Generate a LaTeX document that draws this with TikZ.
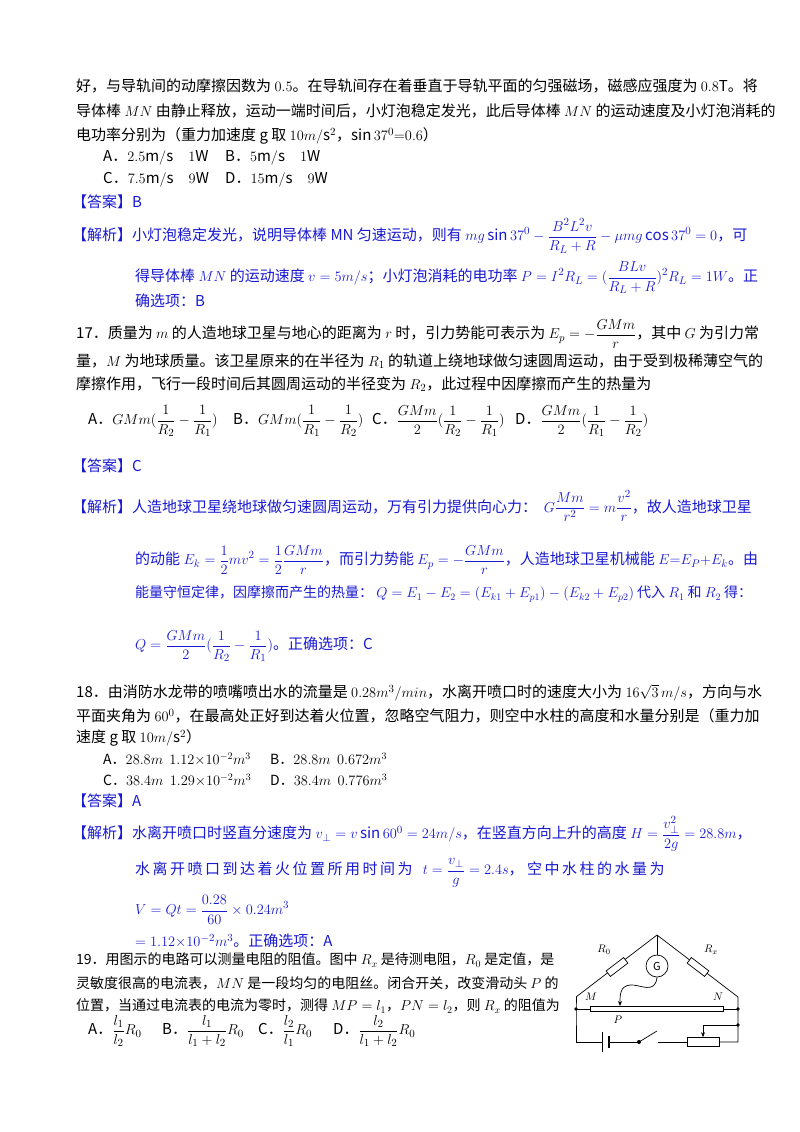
\documentclass[tikz,border=0pt]{standalone}
\usepackage{fontspec}
\setmainfont{Noto Sans CJK SC}
\usepackage{amsmath}
\usetikzlibrary{arrows.meta}
\definecolor{ablue}{RGB}{25,25,210}
\tikzset{ln/.style={anchor=west,inner sep=0pt,font=\fontsize{15}{17}\selectfont},
 bl/.style={ln,text=ablue},
 sm/.style={font=\fontsize{14}{16}\selectfont},
 wire/.style={line width=0.7pt},
 res/.style={draw,line width=0.7pt,fill=white,minimum width=22pt,minimum height=7pt,inner sep=0pt}}
\newcommand{\ds}{\displaystyle}
\begin{document}
\begin{tikzpicture}[x=1pt,y=-1pt]
\useasboundingbox (0,0) rectangle (800,1132);
\fill[white] (0,0) rectangle (800,1132);
% question 16 tail
\node[ln] (l1) at (76,86) {好，与导轨间的动摩擦因数为 $0.5$。在导轨间存在着垂直于导轨平面的匀强磁场，磁感应强度为 $0.8\mathrm{T}$。将};
\node[ln] (l2) at (76,111) {导体棒 $MN$ 由静止释放，运动一端时间后，小灯泡稳定发光，此后导体棒 $MN$ 的运动速度及小灯泡消耗的};
\node[ln] (l3) at (76,136) {电功率分别为（重力加速度 g 取 $10m/\mathrm{s}^2$，$\sin 37^0{=}0.6$）};
\node[ln] (o1) at (103,158) {A．$2.5\mathrm{m/s}\quad 1\mathrm{W}$};
\node[ln] (o2) at (225,158) {B．$5\mathrm{m/s}\quad 1\mathrm{W}$};
\node[ln] (o3) at (103,180) {C．$7.5\mathrm{m/s}\quad 9\mathrm{W}$};
\node[ln] (o4) at (225,180) {D．$15\mathrm{m/s}\quad 9\mathrm{W}$};
\node[bl] (a16) at (72,202) {【答案】B};
\node[bl] (j16) at (72,236) {【解析】小灯泡稳定发光，说明导体棒 MN 匀速运动，则有 $\ds mg\sin 37^0-\frac{B^2L^2v}{R_L+R}-\mu mg\cos 37^0=0$，可};
\node[bl] (j16b) at (135,278) {得导体棒 $MN$ 的运动速度 $v=5m/s$；小灯泡消耗的电功率 $\ds P=I^2R_L=(\frac{BLv}{R_L+R})^2R_L=1W$。正};
\node[bl] (j16c) at (135,301) {确选项：B};
% question 17
\node[ln] (q17) at (76,334) {17．质量为 $m$ 的人造地球卫星与地心的距离为 $r$ 时，引力势能可表示为 $\ds E_p=-\frac{GMm}{r}$，其中 $G$ 为引力常};
\node[ln] (q17b) at (76,361) {量，$M$ 为地球质量。该卫星原来的在半径为 $R_1$ 的轨道上绕地球做匀速圆周运动，由于受到极稀薄空气的};
\node[ln] (q17c) at (76,384) {摩擦作用，飞行一段时间后其圆周运动的半径变为 $R_2$，此过程中因摩擦而产生的热量为};
\node[ln] (p1) at (88,421) {A．$\ds GMm(\frac{1}{R_2}-\frac{1}{R_1})$};
\node[ln] (p2) at (233,421) {B．$\ds GMm(\frac{1}{R_1}-\frac{1}{R_2})$};
\node[ln] (p3) at (372,421) {C．$\ds \frac{GMm}{2}(\frac{1}{R_2}-\frac{1}{R_1})$};
\node[ln] (p4) at (515,421) {D．$\ds \frac{GMm}{2}(\frac{1}{R_1}-\frac{1}{R_2})$};
\node[bl] (a17) at (72,466) {【答案】C};
\node[bl] (j17) at (72,506) {【解析】人造地球卫星绕地球做匀速圆周运动，万有引力提供向心力：\ \ $\ds G\frac{Mm}{r^2}=m\frac{v^2}{r}$，故人造地球卫星};
\node[bl] (j17b) at (135,560) {的动能 $\ds E_k=\frac12mv^2=\frac12\frac{GMm}{r}$，而引力势能 $\ds E_p=-\frac{GMm}{r}$，人造地球卫星机械能 $E{=}E_P{+}E_k$。由};
\node[bl,sm] (j17c) at (135,594) {能量守恒定律，因摩擦而产生的热量：\ $Q=E_1-E_2=(E_{k1}+E_{p1})-(E_{k2}+E_{p2})$ 代入 $R_1$ 和 $R_2$ 得：};
\node[bl] (j17d) at (135,646) {$\ds Q=\frac{GMm}{2}(\frac{1}{R_2}-\frac{1}{R_1})$。正确选项：C};
% question 18
\node[ln] (q18) at (76,693) {18．由消防水龙带的喷嘴喷出水的流量是 $0.28m^3/min$，水离开喷口时的速度大小为 $16\sqrt3\,m/s$，方向与水};
\node[ln] (q18b) at (76,716) {平面夹角为 $60^0$，在最高处正好到达着火位置，忽略空气阻力，则空中水柱的高度和水量分别是（重力加};
\node[ln] (q18c) at (76,738) {速度 g 取 $10m/\mathrm{s}^2$）};
\node[ln,sm] (r1) at (103,759) {A．$28.8m\ \ 1.12{\times}10^{-2}m^3$};
\node[ln,sm] (r2) at (270,759) {B．$28.8m\ \ 0.672m^3$};
\node[ln,sm] (r3) at (103,780) {C．$38.4m\ \ 1.29{\times}10^{-2}m^3$};
\node[ln,sm] (r4) at (270,780) {D．$38.4m\ \ 0.776m^3$};
\node[bl] (a18) at (72,801) {【答案】A};
\node[bl] (j18) at (72,834) {【解析】水离开喷口时竖直分速度为 $v_\perp=v\sin 60^0=24m/s$，在竖直方向上升的高度 $\ds H=\frac{v_\perp^2}{2g}=28.8m$，};
\node[bl] (j18b) at (135,873) {水\,离\,开\,喷\,口\,到\,达\,着\,火\,位\,置\,所\,用\,时\,间\,为 \ \ $\ds t=\frac{v_\perp}{g}=2.4s$，\ 空\,中\,水\,柱\,的\,水\,量\,为};
\node[bl] (j18c) at (135,910) {$\ds V=Qt=\frac{0.28}{60}\times 0.24m^3$};
\node[bl] (j18d) at (135,941) {$=1.12{\times}10^{-2}m^3$。正确选项：A};
% question 19
\node[ln,sm] (q19) at (76,960) {19．用图示的电路可以测量电阻的阻值。图中 $R_x$ 是待测电阻，$R_0$ 是定值，是};
\node[ln,sm] (q19b) at (76,983) {灵敏度很高的电流表，$MN$ 是一段均匀的电阻丝。闭合开关，改变滑动头 $P$ 的};
\node[ln,sm] (q19c) at (76,1006) {位置，当通过电流表的电流为零时，测得 $MP=l_1$，$PN=l_2$，则 $R_x$ 的阻值为};
\node[ln] (s1) at (88,1031) {A．$\ds\frac{l_1}{l_2}R_0$};
\node[ln] (s2) at (162,1031) {B．$\ds\frac{l_1}{l_1+l_2}R_0$};
\node[ln] (s3) at (258,1031) {C．$\ds\frac{l_2}{l_1}R_0$};
\node[ln] (s4) at (333,1031) {D．$\ds\frac{l_2}{l_1+l_2}R_0$};
% circuit
\coordinate (A) at (657,935);
\coordinate (Lc) at (576,997);
\coordinate (Rc) at (738,997);
\coordinate (M) at (576,1009);
\coordinate (N) at (738,1009);
\coordinate (J) at (738,1025);
\coordinate (BL) at (576,1042);
\coordinate (BR) at (738,1042);
\draw[wire] (Lc) -- (A) -- (Rc) -- (N) -- (BR) -- (719,1042);
\draw[wire] (Lc) -- (M) -- (BL) -- (602,1042);
\node[res,rotate=37.4] (R0) at (617,967) {};
\node[res,rotate=-37.4] (Rx) at (698,967) {};
\node[draw,circle,wire,fill=white,minimum size=22pt,inner sep=0pt,font=\fontsize{11}{12}\selectfont] (G) at (657,966) {G};
\draw[wire] (A) -- (G.north);
\draw[wire] (M) -- (590,1009) (723,1009) -- (N);
\draw[wire,fill=white] (590,1006.5) rectangle (723,1011.5);
\coordinate (P) at (620,1006);
\draw[wire,-{Stealth[length=5pt,width=4pt]}] (G.south) .. controls (655,995) and (640,984) .. (630,985) .. controls (620,986) and (620,995) .. (P);
\draw[wire] (602,1032) -- (602,1052);
\draw[line width=1.6pt] (609,1036) -- (609,1048);
\draw[wire] (609,1042) -- (639,1042);
\fill (639,1042) circle (2pt);
\draw[wire] (639,1042) -- (657,1031);
\draw[wire] (658,1042) -- (687,1042);
\node[res,minimum width=32pt,minimum height=9pt] (Rh) at (703,1042) {};
\draw[wire,-{Stealth[length=5pt,width=4pt]}] (J) -- (703,1025) -- (Rh.north);
\foreach \p in {M,N,J} \fill (\p) circle (1.8pt);
\node[font=\fontsize{11}{12}\selectfont] (lR0) at (604,950) {$R_0$};
\node[font=\fontsize{11}{12}\selectfont] (lRx) at (711,950) {$R_x$};
\node[font=\fontsize{11}{12}\selectfont] (lM) at (591,997) {$M$};
\node[font=\fontsize{11}{12}\selectfont] (lN) at (718,997) {$N$};
\node[font=\fontsize{11}{12}\selectfont] (lP) at (618,1020) {$P$};
\end{tikzpicture}
\end{document}
